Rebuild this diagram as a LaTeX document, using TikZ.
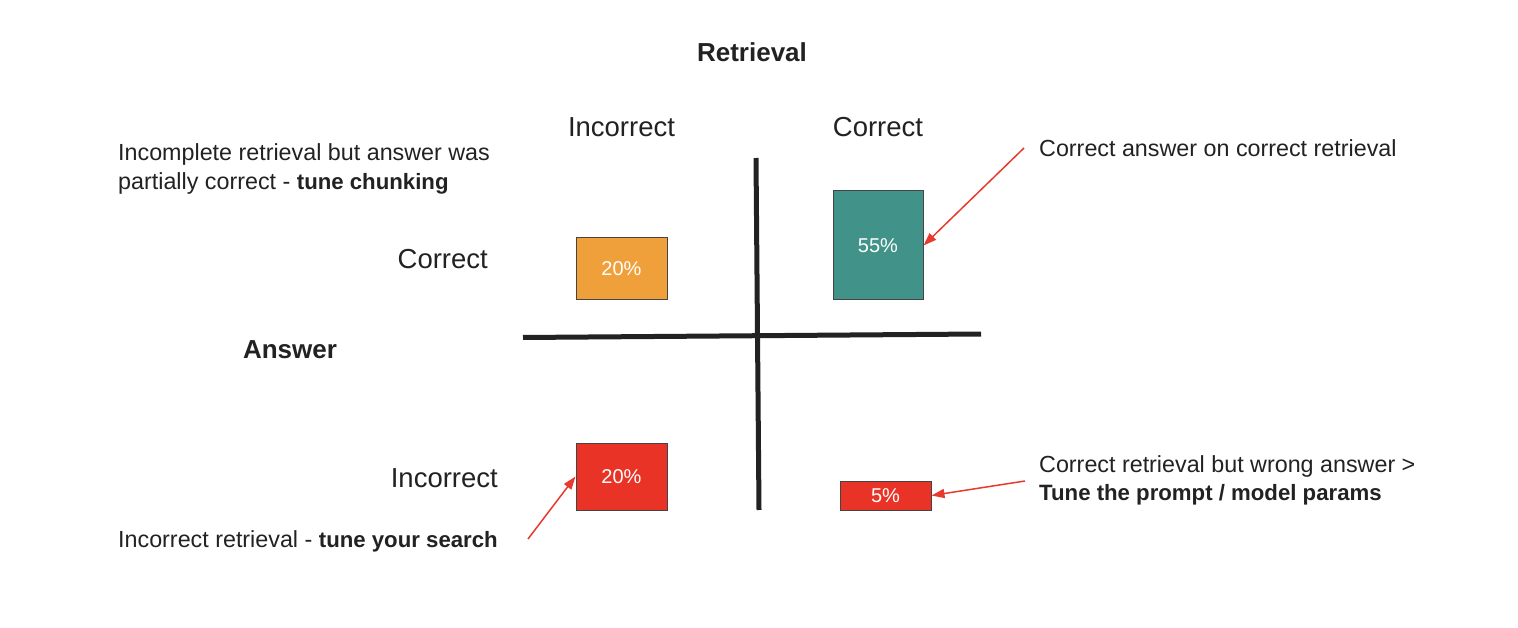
\documentclass[tikz,border=0pt]{standalone}
\usepackage{fontspec}
\setmainfont{Liberation Sans}
\usetikzlibrary{arrows.meta}
\definecolor{txt}{HTML}{222222}
\definecolor{orangebox}{HTML}{F0A03A}
\definecolor{tealbox}{HTML}{41938A}
\definecolor{redbox}{HTML}{E93326}
\definecolor{arrowred}{HTML}{E8392F}
\definecolor{edgegray}{HTML}{444444}
\newcommand{\mybold}[1]{{\fontsize{22.2}{28.5}\selectfont\bfseries #1}}
\tikzset{
  hdr/.style={inner sep=0pt, text=txt, font=\fontsize{27.5}{32}\selectfont},
  hdrbold/.style={inner sep=0pt, text=txt, font=\fontsize{26}{30}\selectfont\bfseries},
  note/.style={inner sep=0pt, text=txt, font=\fontsize{23.3}{28.5}\selectfont, anchor=base west},
  pbox/.style={draw=edgegray, line width=1pt, inner sep=0pt, text=white, font=\fontsize{20}{24}\selectfont},
  axis/.style={draw=txt, line width=5pt},
  callout/.style={draw=arrowred, line width=1.5pt, -{Triangle[length=13pt,width=9pt]}}
}
\begin{document}
\begin{tikzpicture}[x=1pt,y=-1pt]
\useasboundingbox[fill=white] (0,0) rectangle (1518,628);

% axes
\coordinate (vtop) at (756,158);
\coordinate (vbot) at (759,510);
\coordinate (hleft) at (523,337.5);
\coordinate (hright) at (981,334);
\draw[axis] (vtop) -- (vbot);
\draw[axis] (hleft) -- (hright);

% headers
\node[hdrbold, anchor=base] (retr) at (752,62) {Retrieval};
\node[hdr, anchor=base] (colinc) at (621.5,137) {Incorrect};
\node[hdr, anchor=base] (colcor) at (878,137) {Correct};
\node[hdr, anchor=base east] (rowcor) at (488,269) {Correct};
\node[hdrbold, anchor=base] (ans) at (290,358) {Answer};
\node[hdr, anchor=base east] (rowinc) at (498,487) {Incorrect};

% boxes
\node[pbox, fill=orangebox, minimum width=91pt, minimum height=62pt] (b1) at (621.5,269) {20\%};
\node[pbox, fill=tealbox, minimum width=90pt, minimum height=109pt] (b2) at (878,245.5) {55\%};
\node[pbox, fill=redbox, minimum width=91pt, minimum height=67pt] (b3) at (621.5,476.5) {20\%};
\node[pbox, fill=redbox, minimum width=91pt, minimum height=29pt] (b4) at (885.5,495.5) {5\%};

% annotations
\node[note] (n1a) at (118,161) {Incomplete retrieval but answer was};
\node[note] (n1b) at (118,189.5) {partially correct - \mybold{tune chunking}};
\node[note] (n2) at (1039,157) {Correct answer on correct retrieval};
\node[note] (n3a) at (1039,472) {Correct retrieval but wrong answer >};
\node[note] (n3b) at (1039,500.5) {\mybold{Tune the prompt / model params}};
\node[note] (n4) at (118,547) {Incorrect retrieval - \mybold{tune your search}};

% callout arrows
\coordinate (a2s) at (1024,148);
\coordinate (a3s) at (1025,481);
\coordinate (a4s) at (528,539);
\draw[callout] (a2s) -- (b2.east);
\draw[callout] (a3s) -- (b4.east);
\draw[callout] (a4s) -- (b3.west);
\end{tikzpicture}
\end{document}
